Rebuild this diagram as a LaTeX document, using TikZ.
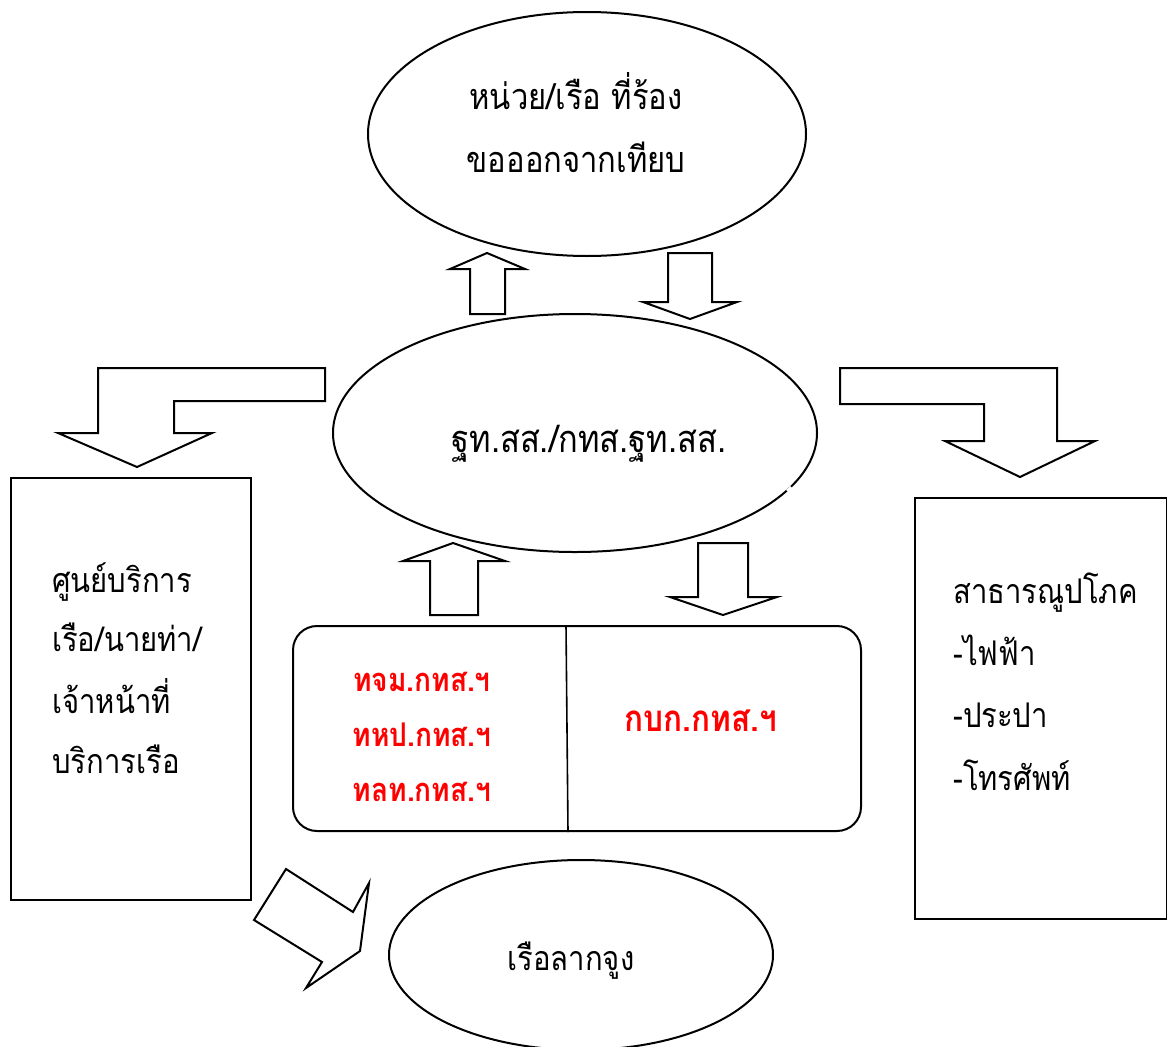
\documentclass[tikz,border=0pt]{standalone}
\usepackage{fontspec}
\newfontfamily\thaifont[Script=Thai, FakeStretch=0.86]{Loma}
\usetikzlibrary{shapes.geometric}
\begin{document}
\begin{tikzpicture}[x=0.75pt,y=-0.75pt,
  shp/.style={draw, line width=1.5pt, fill=white, line join=miter},
  oval/.style={shp, ellipse, inner sep=0pt},
  txt/.style={font=\thaifont\fontsize{25.5}{30}\selectfont, inner sep=0pt, anchor=base west},
  ctxt/.style={font=\thaifont\fontsize{27}{32}\selectfont, inner sep=0pt, anchor=base},
  rtxt/.style={font=\thaifont\bfseries\fontsize{24.5}{30}\selectfont, inner sep=0pt, anchor=base, text=red}]
\useasboundingbox (0,0) rectangle (1167,1046);
\clip (0,0) rectangle (1167,1046);

% ellipses
\node[oval, minimum width=328.5pt, minimum height=183pt] (top) at (587,134) {};
\node[oval, minimum width=363pt, minimum height=178.5pt] (mid) at (575,433) {};
\node[oval, minimum width=288pt, minimum height=142.5pt] (tug) at (581,955) {};
\draw[white, line width=3pt] (787.5,491.5) -- (791.5,487.5);

% boxes
\node[shp, anchor=north west, minimum width=180pt, minimum height=316.5pt, inner sep=0pt] (left) at (10,477) {};
\node[shp, anchor=north west, minimum width=189pt, minimum height=315.75pt, inner sep=0pt] (right) at (914,497) {};
\node[shp, rounded corners=18pt, anchor=north west, minimum width=426pt, minimum height=153.75pt, inner sep=0pt] (panel) at (292,625) {};
\draw[line width=1.2pt] (panel.north west -| 566,0) coordinate (dt) -- (panel.south west -| 568,0) coordinate (db);

% texts
\node[ctxt] (t1) at (576,109) {หน่วย/เรือ ที่ร้อง};
\node[ctxt] (t2) at (576,172) {ขอออกจากเทียบ};
\node[ctxt, font=\thaifont\fontsize{28.5}{32}\selectfont] (t3) at (589,452) {ฐท.สส./กทส.ฐท.สส.};
\node[ctxt, font=\thaifont\fontsize{25.5}{30}\selectfont] (t4) at (571,970) {เรือลากจูง};

\node[txt] (l1) at (52,592) {ศูนย์บริการ};
\node[txt] (l2) at (52,651) {เรือ/นายท่า/};
\node[txt] (l3) at (52,713) {เจ้าหน้าที่};
\node[txt] (l4) at (52,773) {บริการเรือ};

\node[txt] (r1) at (953,603) {สาธารณูปโภค};
\node[txt] (r2) at (953,665) {-ไฟฟ้า};
\node[txt] (r3) at (953,727) {-ประปา};
\node[txt] (r4) at (953,790) {-โทรศัพท์};

\node[rtxt] (p1) at (422,691) {ทจม.กทส.ฯ};
\node[rtxt] (p2) at (422,746) {ทหป.กทส.ฯ};
\node[rtxt] (p3) at (422,801) {ทลท.กทส.ฯ};
\node[rtxt, font=\thaifont\bfseries\fontsize{27.5}{30}\selectfont] (p4) at (701,731) {กบก.กทส.ฯ};

% block arrows
% top: up and down
\draw[shp] (470,314) -- (470,269) -- (450,269) -- (487,253) -- (525,269) -- (505,269) -- (505,314) -- cycle;
\draw[shp] (668,253) -- (712,253) -- (712,302) -- (737,302) -- (690,319) -- (643,302) -- (668,302) -- cycle;
% bottom: up and down
\draw[shp] (430,615) -- (430,561) -- (403,561) -- (453,543) -- (505,561) -- (478,561) -- (478,615) -- cycle;
\draw[shp] (698,543) -- (748,543) -- (748,597) -- (777,597) -- (723,615) -- (670,597) -- (698,597) -- cycle;
% bent left
\draw[shp] (325,368) -- (325,401) -- (174,401) -- (174,433) -- (212,433) -- (137,467) -- (58,433) -- (98,433) -- (98,368) -- cycle;
% bent right
\draw[shp] (840,368) -- (1057,368) -- (1057,441) -- (1095,441) -- (1020,477) -- (945,441) -- (984,441) -- (984,404) -- (840,404) -- cycle;
% tilted arrow to tug
\draw[shp] (286,869) -- (353,912) -- (369,883) -- (360,951) -- (306,988) -- (322,962) -- (254,920) -- cycle;
\end{tikzpicture}
\end{document}
